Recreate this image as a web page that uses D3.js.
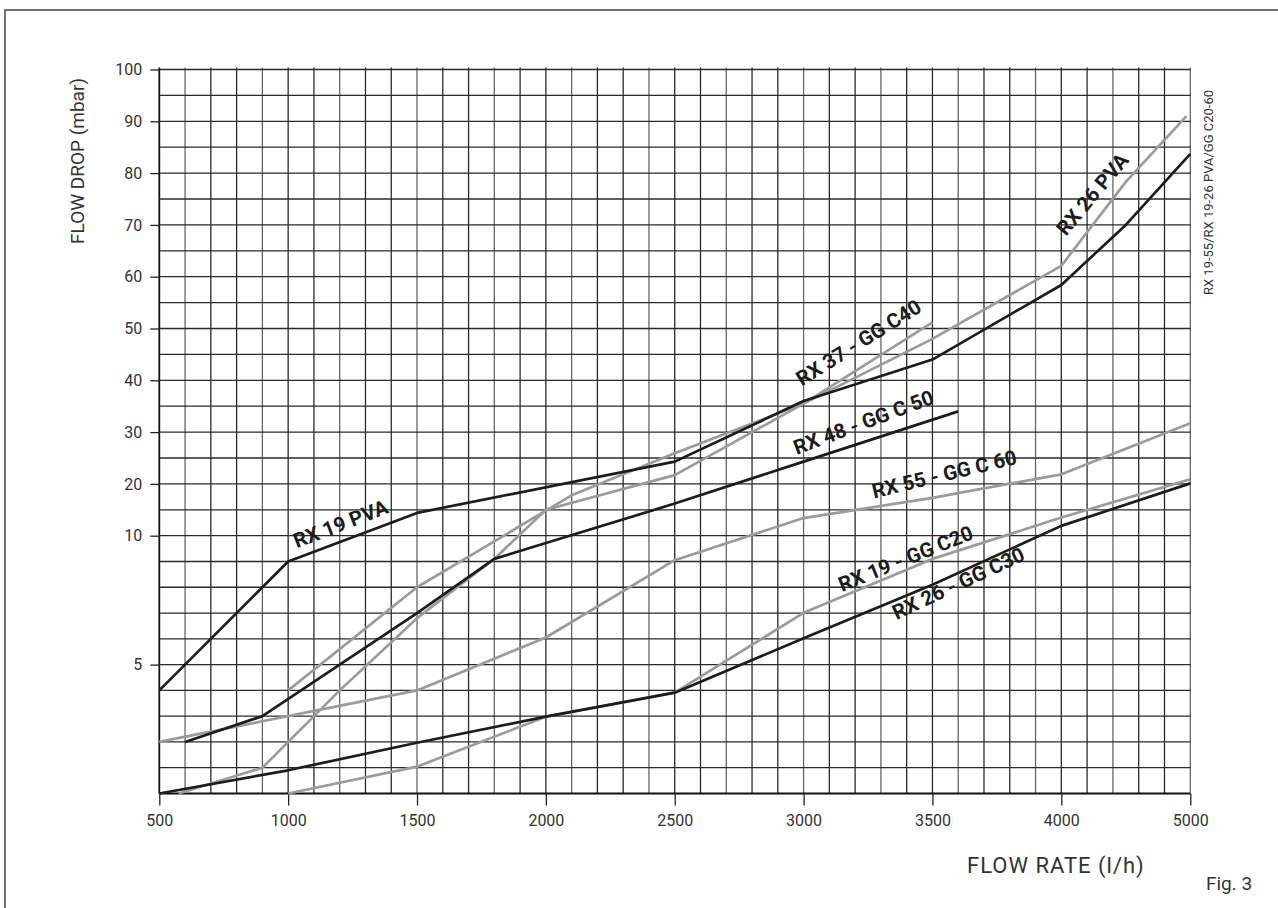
<!DOCTYPE html>
<html>
<head>
<meta charset="utf-8">
<script src="https://cdn.jsdelivr.net/npm/d3@7/dist/d3.min.js"></script>
<style>
  html, body { margin: 0; padding: 0; background: #fff; }
  svg { display: block; font-family: Roboto, "DejaVu Sans", sans-serif; }
</style>
</head>
<body>
<svg id="chart" width="1278" height="908"></svg>
<script>
// Axis breakpoints: flow rate is linear to 4000 then compressed to 5000,
// pressure drop is 1 mbar per grid step up to 10, then 5 mbar per step.
const flowBreaks = [500, 4000, 5000];
const dropBreaks = [0, 10, 100];

// Tick labels
const flowTicks = [500, 1000, 1500, 2000, 2500, 3000, 3500, 4000, 5000];
const dropTicks = [5, 10, 20, 30, 40, 50, 60, 70, 80, 90, 100];

// Black curves
const rx19pvaFlow = [500, 1000, 1500, 2500, 3000, 3500, 4000, 4500, 5000];
const rx19pvaDrop = [4, 9, 14.4, 24.3, 36, 44, 58.4, 70, 83.7];

const rx48Flow = [600, 900, 1500, 1800, 2500, 3000, 3600];
const rx48Drop = [2, 3, 7, 9.1, 16.2, 24.3, 34];

const rx26c30Flow = [500, 1000, 1500, 2000, 2500, 3000, 3500, 4000, 5000];
const rx26c30Drop = [0, 0.9, 1.97, 2.98, 3.91, 6.02, 8.1, 11.9, 20.1];

// Grey curves
const rx26pvaFlow = [575, 900, 1200, 1500, 1800, 2000, 2500, 3000, 3500, 4000, 4500, 4970];
const rx26pvaDrop = [0, 1, 4, 6.8, 9.1, 15, 21.7, 35.5, 48, 62.1, 78.3, 91];

const rx37Flow = [1000, 1500, 2100, 2500, 3000, 3500];
const rx37Drop = [4, 8, 17.8, 25.9, 35.5, 51.2];

const rx55Flow = [500, 1500, 2000, 2500, 3000, 3500, 4000, 5000];
const rx55Drop = [2, 4, 6.05, 9.05, 13.4, 17.3, 21.85, 31.7];

const rx19c20Flow = [1000, 1500, 2000, 2500, 3000, 3500, 4000, 5000];
const rx19c20Drop = [0, 1.04, 2.98, 3.91, 7.01, 9.1, 13.5, 20.9];

// Curve captions
const captionText  = ["RX 19 PVA", "RX 26 PVA", "RX 37 - GG C40", "RX 48 - GG C 50", "RX 55 - GG C 60", "RX 19 - GG C20", "RX 26 - GG C30"];
const captionFlow  = [1033, 4036, 2993, 2973, 3273, 3149, 3361];
const captionDrop  = [9.51, 67.7, 38.8, 25.6, 17.2, 7.82, 6.73];
const captionAngle = [-21, -50, -32, -20.5, -13.5, -22, -25];

const svg = d3.select("#chart");

const x = d3.scaleLinear().domain(flowBreaks).range([159.3, 1061.3, 1190.3]);
const y = d3.scaleLinear().domain(dropBreaks).range([793.5, 535.7, 69.5]);

// Page frame
svg.append("path")
  .attr("d", "M5,908 V10 H1278")
  .attr("fill", "none")
  .attr("stroke", "#444")
  .attr("stroke-width", 1.5);

// Grid
const xGrid = d3.range(500, 4001, 100).concat([4200, 4400, 4600, 4800, 5000]);
const yGrid = d3.range(0, 11, 1).concat(d3.range(15, 101, 5));

const grid = svg.append("g").attr("class", "grid");
grid.selectAll("line.v").data(xGrid).join("line")
  .attr("class", "v")
  .attr("x1", d => x(d)).attr("x2", d => x(d))
  .attr("y1", y(100) - 2).attr("y2", y(0))
  .attr("stroke", (d, i) => (d === 500 ? "#111" : (i % 3 === 1 ? "#666" : "#2a2a2a")))
  .attr("stroke-width", d => (d === 500 ? 1.8 : 1.3));
grid.selectAll("line.h").data(yGrid).join("line")
  .attr("class", "h")
  .attr("x1", x(500)).attr("x2", x(5000))
  .attr("y1", d => y(d)).attr("y2", d => y(d))
  .attr("stroke", d => (d === 0 ? "#111" : "#2a2a2a"))
  .attr("stroke-width", d => (d === 0 ? 1.8 : 1.3));

// Axes
const xAxis = svg.append("g")
  .attr("transform", `translate(0,${y(0)})`)
  .call(d3.axisBottom(x).tickValues(flowTicks).tickSize(12).tickPadding(9).tickFormat(d3.format("d")));
const yAxis = svg.append("g")
  .attr("transform", `translate(${x(500)},0)`)
  .call(d3.axisLeft(y).tickValues(dropTicks).tickSize(9).tickPadding(8).tickFormat(d3.format("d")));
[xAxis, yAxis].forEach(a => {
  a.select(".domain").remove();
  a.selectAll(".tick line").attr("stroke", "#222").attr("stroke-width", 1.3);
  a.selectAll(".tick text")
    .attr("fill", "#333")
    .attr("font-size", 16)
    .attr("font-family", "Roboto, sans-serif");
});

// Curves
const line = d3.line().x(d => x(d[0])).y(d => y(d[1]));
const zipSeries = (f, v) => f.map((d, i) => [d, v[i]]);

const greySeries = [
  zipSeries(rx26pvaFlow, rx26pvaDrop),
  zipSeries(rx37Flow, rx37Drop),
  zipSeries(rx55Flow, rx55Drop),
  zipSeries(rx19c20Flow, rx19c20Drop)
];
const blackSeries = [
  zipSeries(rx19pvaFlow, rx19pvaDrop),
  zipSeries(rx48Flow, rx48Drop),
  zipSeries(rx26c30Flow, rx26c30Drop)
];

svg.append("g").selectAll("path").data(greySeries).join("path")
  .attr("d", line)
  .attr("fill", "none")
  .attr("stroke", "#9b9b9b")
  .attr("stroke-width", 2.7)
  .attr("stroke-linejoin", "round");

svg.append("g").selectAll("path").data(blackSeries).join("path")
  .attr("d", line)
  .attr("fill", "none")
  .attr("stroke", "#1c1c1c")
  .attr("stroke-width", 2.7)
  .attr("stroke-linejoin", "round");

// Captions along the curves
svg.append("g").selectAll("text").data(captionText).join("text")
  .attr("transform", (d, i) =>
    `translate(${x(captionFlow[i])},${y(captionDrop[i])}) rotate(${captionAngle[i]})`)
  .attr("font-size", 20.5)
  .attr("font-weight", "bold")
  .attr("fill", "#1c1c1c")
  .text(d => d);

// Axis titles and notes
svg.append("text")
  .attr("transform", "translate(84,78) rotate(-90)")
  .attr("text-anchor", "end")
  .attr("font-size", 19)
  .attr("fill", "#333")
  .text("FLOW DROP (mbar)");

svg.append("text")
  .attr("x", 967).attr("y", 873)
  .attr("font-size", 22)
  .attr("letter-spacing", 1)
  .attr("fill", "#333")
  .text("FLOW RATE (l/h)");

svg.append("text")
  .attr("x", 1206).attr("y", 890)
  .attr("font-size", 19)
  .attr("fill", "#333")
  .text("Fig. 3");

svg.append("text")
  .attr("transform", "translate(1213,90) rotate(-90)")
  .attr("text-anchor", "end")
  .attr("font-size", 13)
  .attr("fill", "#333")
  .text("RX 19-55/RX 19-26 PVA/GG C20-60");
</script>
</body>
</html>
